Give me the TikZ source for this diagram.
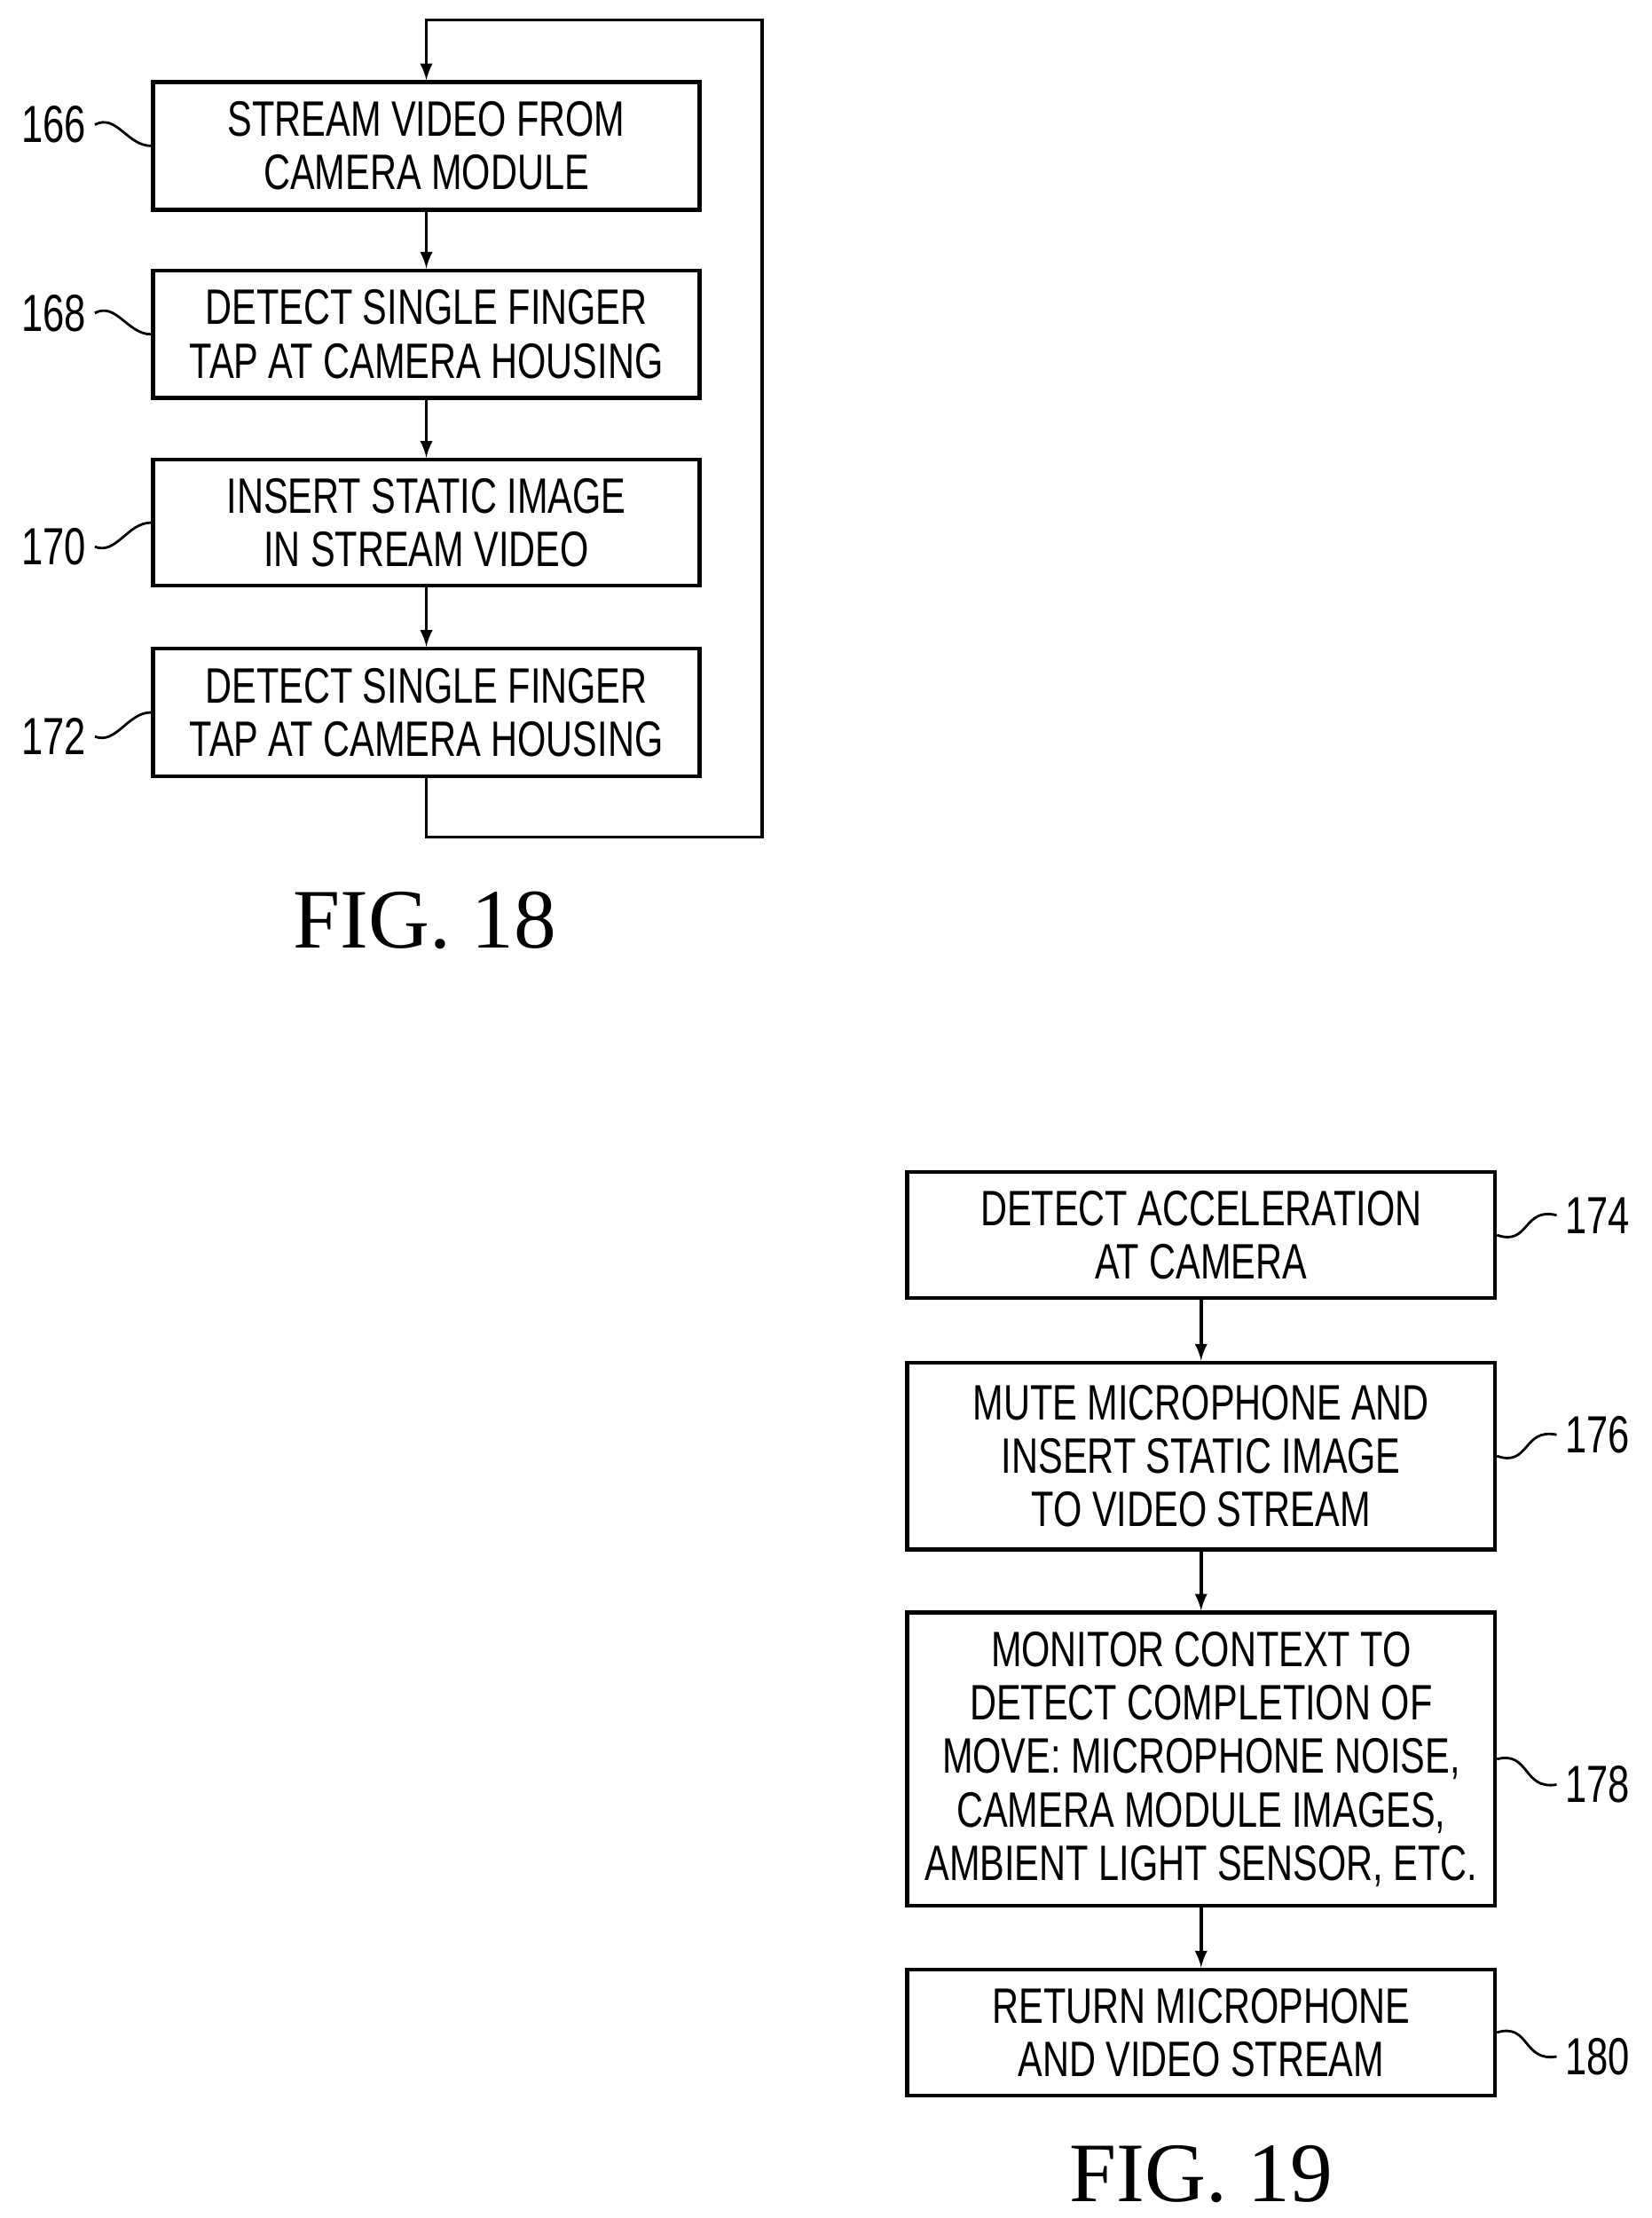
\documentclass[tikz,border=0pt]{standalone}
\usepackage{fontspec}
\setmainfont{Liberation Sans}[FakeStretch=0.74]
\newfontfamily\figfont{Liberation Serif}
\begin{document}
\begin{tikzpicture}[x=0.02cm,y=-0.02cm,
    box/.style={draw, line width=1.6pt, align=center, inner sep=0pt,
        font=\fontsize{20}{21.5}\selectfont},
    num/.style={font=\fontsize{21}{22}\selectfont},
    flow/.style={draw, line width=1.3pt, ->, >=latex},
    lead/.style={draw, line width=1pt},
    fig/.style={font=\figfont\fontsize{34}{36}\selectfont}]
    \useasboundingbox (0,0) rectangle (1166,1566);

    \node[box] (166) at (301,103) [minimum width=7.72cm, minimum height=1.8cm] {STREAM VIDEO FROM\\CAMERA MODULE};
    \node[box] (168) at (301,236) [minimum width=7.72cm, minimum height=1.8cm] {DETECT SINGLE FINGER\\TAP AT CAMERA HOUSING};
    \node[box] (170) at (301,369) [minimum width=7.72cm, minimum height=1.78cm] {INSERT STATIC IMAGE\\IN STREAM VIDEO};
    \node[box] (172) at (301,503) [minimum width=7.72cm, minimum height=1.8cm] {DETECT SINGLE FINGER\\TAP AT CAMERA HOUSING};

    \path[flow] (166) -- (168);
    \path[flow] (168) -- (170);
    \path[flow] (170) -- (172);
    \coordinate (lb) at (301,591);
    \coordinate (lt) at (301,14);
    \path[flow] (172.south) -- (lb) -| (538,14) -- (lt) -- (166.north);

    \node[num] (n166) at (38,88) {166};
    \node[num] (n168) at (38,221) {168};
    \node[num] (n170) at (38,386) {170};
    \node[num] (n172) at (38,520) {172};
    \path[lead] (n166.east) .. controls (82,80) and (90,103) .. (166.west);
    \path[lead] (n168.east) .. controls (82,213) and (90,236) .. (168.west);
    \path[lead] (n170.east) .. controls (82,392) and (90,369) .. (170.west);
    \path[lead] (n172.east) .. controls (82,526) and (90,503) .. (172.west);

    \node[fig] (f18) at (300,650) {FIG. 18};

    \node[box] (174) at (848,872) [minimum width=8.3cm, minimum height=1.78cm] {DETECT ACCELERATION\\AT CAMERA};
    \node[box] (176) at (848,1028) [minimum width=8.3cm, minimum height=2.64cm] {MUTE MICROPHONE AND\\INSERT STATIC IMAGE\\TO VIDEO STREAM};
    \node[box] (178) at (848,1242) [minimum width=8.3cm, minimum height=4.14cm] {MONITOR CONTEXT TO\\DETECT COMPLETION OF\\MOVE: MICROPHONE NOISE,\\CAMERA MODULE IMAGES,\\AMBIENT LIGHT SENSOR, ETC.};
    \node[box] (180) at (848,1435) [minimum width=8.3cm, minimum height=1.78cm] {RETURN MICROPHONE\\AND VIDEO STREAM};

    \path[flow] (174) -- (176);
    \path[flow] (176) -- (178);
    \path[flow] (178) -- (180);

    \node[num] (n174) at (1128,858) {174};
    \node[num] (n176) at (1128,1013) {176};
    \node[num] (n178) at (1128,1260) {178};
    \node[num] (n180) at (1128,1452) {180};
    \path[lead] (174.east) .. controls (1080,880) and (1075,852) .. (n174.west);
    \path[lead] (176.east) .. controls (1080,1036) and (1075,1008) .. (n176.west);
    \path[lead] (178.east) .. controls (1080,1236) and (1075,1264) .. (n178.west);
    \path[lead] (180.east) .. controls (1080,1428) and (1075,1456) .. (n180.west);

    \node[fig] (f19) at (848,1535) {FIG. 19};
\end{tikzpicture}
\end{document}
